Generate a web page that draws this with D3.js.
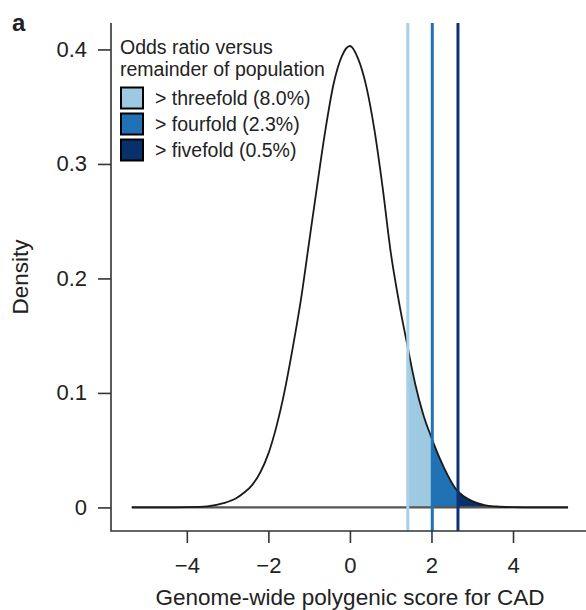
<!DOCTYPE html>
<html>
<head>
<meta charset="utf-8">
<script src="https://cdn.jsdelivr.net/npm/d3@7"></script>
<style>
  body { margin: 0; background: #fff; }
  svg text { font-family: 'Liberation Sans', Arial, sans-serif; fill: #222; }
</style>
</head>
<body>
<div id="diagram"></div>
<script>
// density curve
const scores = [-5.35, -4.5, -4, -3.5, -3.1, -2.8, -2.6, -2.4, -2.2, -2.0, -1.8, -1.6, -1.4, -1.2, -1.0, -0.8, -0.6, -0.4, -0.2, 0,
  0.2, 0.4, 0.6, 0.8, 1.0, 1.2, 1.4, 1.6, 1.8, 2.0, 2.2, 2.4, 2.6, 2.8, 3.0, 3.3, 3.6, 4.0, 4.5, 5.35];
const densities = [0, 0, 0.0002, 0.0009, 0.0037, 0.0078, 0.0128, 0.0195, 0.0305, 0.047, 0.071, 0.102, 0.140, 0.182, 0.232, 0.282, 0.330, 0.370, 0.394, 0.403,
  0.392, 0.368, 0.330, 0.280, 0.223, 0.180, 0.143, 0.108, 0.081, 0.061, 0.043, 0.028, 0.016, 0.0095, 0.0055, 0.002, 0.0008, 0.0002, 0, 0];

// cut-offs for odds ratio > 3, > 4, > 5 and where the shaded tail ends
const cutoffs = [1.42, 2.02, 2.65];
const tailEnd = 5.35;
const legendTitle = ['Odds ratio versus', 'remainder of population'];
const legendLabels = ['> threefold (8.0%)', '> fourfold (2.3%)', '> fivefold (0.5%)'];

const xTicks = [-4, -2, 0, 2, 4];
const xTickLabels = ['\u22124', '\u22122', '0', '2', '4'];
const yTicks = [0, 0.1, 0.2, 0.3, 0.4];
const yTickLabels = ['0', '0.1', '0.2', '0.3', '0.4'];

!(function () {
  'use strict';
  let
    canvas = undefined,
    svg = undefined,
    x = undefined,
    y = undefined,
    points = undefined,
    fills = ['#9ecae1', '#2171b5', '#08306b'],
    strokes = ['#a6d0e8', '#2171b5', '#0b3374'],

    setCanvas = undefined,
    setScales = undefined,
    setBands = undefined,
    setCurve = undefined,
    setAxes = undefined,
    setLegend = undefined;

  canvas = {
    width: 586,
    height: 610,
    plot: { left: 111, right: 586, top: 23, bottom: 531 }
  };

  setCanvas = function (contextSelector) {
    svg = d3.select(contextSelector)
      .append('svg')
      .attr('width', canvas.width)
      .attr('height', canvas.height);
  };

  setScales = function () {
    x = d3.scaleLinear()
      .domain([-5.86, 5.79])
      .range([canvas.plot.left, canvas.plot.right]);
    y = d3.scaleLinear()
      .domain([-0.0206, 0.4231])
      .range([canvas.plot.bottom, canvas.plot.top]);
    points = scores.map(function (s, i) { return [s, densities[i]]; });
  };

  setBands = function () {
    let area = d3.area()
      .curve(d3.curveMonotoneX)
      .x(function (d) { return x(d[0]); })
      .y0(y(0))
      .y1(function (d) { return y(d[1]); });
    let edges = cutoffs.concat([tailEnd]);

    cutoffs.forEach(function (c, i) {
      svg.append('clipPath')
        .attr('id', 'band' + i)
        .append('rect')
        .attr('x', x(c))
        .attr('y', canvas.plot.top)
        .attr('width', x(edges[i + 1]) - x(c))
        .attr('height', canvas.plot.bottom - canvas.plot.top);

      svg.append('path')
        .datum(points)
        .attr('clip-path', 'url(#band' + i + ')')
        .attr('fill', fills[i])
        .attr('d', area);
    });
  };

  setCurve = function () {
    // zero line under the curve
    svg.append('line')
      .attr('x1', x(scores[0]))
      .attr('x2', x(scores[scores.length - 1]))
      .attr('y1', y(0))
      .attr('y2', y(0))
      .attr('stroke', '#555')
      .attr('stroke-width', 2.4);

    svg.append('path')
      .datum(points)
      .attr('fill', 'none')
      .attr('stroke', '#1a1a1a')
      .attr('stroke-width', 1.8)
      .attr('d', d3.line()
        .curve(d3.curveMonotoneX)
        .x(function (d) { return x(d[0]); })
        .y(function (d) { return y(d[1]); }));

    svg.selectAll()
      .data(cutoffs)
      .enter()
      .append('line')
      .attr('x1', function (d) { return x(d); })
      .attr('x2', function (d) { return x(d); })
      .attr('y1', canvas.plot.top)
      .attr('y2', canvas.plot.bottom)
      .attr('stroke', function (d, i) { return strokes[i]; })
      .attr('stroke-width', 3);
  };

  setAxes = function () {
    let gx = svg.append('g')
      .attr('transform', 'translate(0,' + canvas.plot.bottom + ')')
      .call(d3.axisBottom(x)
        .tickValues(xTicks)
        .tickFormat(function (d, i) { return xTickLabels[i]; })
        .tickSize(12)
        .tickPadding(14));

    let gy = svg.append('g')
      .attr('transform', 'translate(' + canvas.plot.left + ',0)')
      .call(d3.axisLeft(y)
        .tickValues(yTicks)
        .tickFormat(function (d, i) { return yTickLabels[i]; })
        .tickSize(13)
        .tickPadding(11));

    [gx, gy].forEach(function (g) {
      g.select('.domain').remove();
      g.selectAll('.tick line').attr('stroke', '#333').attr('stroke-width', 1.6);
      g.selectAll('.tick text').attr('font-size', 22).attr('fill', '#222');
    });

    // L-shaped frame
    svg.append('path')
      .attr('d', 'M' + canvas.plot.left + ',' + canvas.plot.top +
        'V' + canvas.plot.bottom + 'H' + canvas.plot.right)
      .attr('fill', 'none')
      .attr('stroke', '#333')
      .attr('stroke-width', 1.6);

    svg.append('text')
      .attr('x', 350)
      .attr('y', 605)
      .attr('text-anchor', 'middle')
      .attr('font-size', 22.5)
      .text('Genome-wide polygenic score for CAD');

    svg.append('text')
      .attr('transform', 'translate(28,277) rotate(-90)')
      .attr('text-anchor', 'middle')
      .attr('font-size', 22.5)
      .text('Density');

    svg.append('text')
      .attr('x', 12)
      .attr('y', 31)
      .attr('font-size', 24)
      .attr('font-weight', 'bold')
      .text('a');
  };

  setLegend = function () {
    let g = svg.append('g');

    g.selectAll()
      .data(legendTitle)
      .enter()
      .append('text')
      .attr('x', 120)
      .attr('y', function (d, i) { return 54 + i * 22; })
      .attr('font-size', 19.5)
      .text(function (d) { return d; });

    let rows = g.selectAll()
      .data(legendLabels)
      .enter()
      .append('g')
      .attr('transform', function (d, i) { return 'translate(0,' + (98 + i * 26) + ')'; });

    rows.append('rect')
      .attr('x', 121)
      .attr('y', -10.5)
      .attr('width', 22)
      .attr('height', 21)
      .attr('fill', function (d, i) { return fills[i]; })
      .attr('stroke', '#000')
      .attr('stroke-width', 2);

    rows.append('text')
      .attr('x', 155)
      .attr('dy', '0.35em')
      .attr('font-size', 19.5)
      .text(function (d) { return d; });
  };

  // control
  setCanvas('#diagram');
  setScales();
  setBands();
  setCurve();
  setAxes();
  setLegend();
}());
</script>
</body>
</html>
